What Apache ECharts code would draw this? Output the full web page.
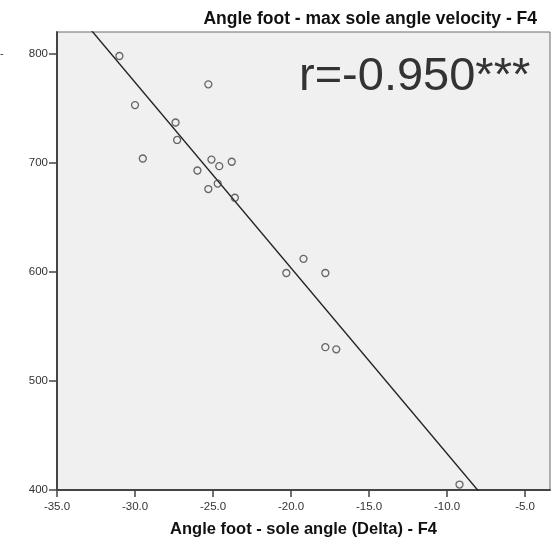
<!DOCTYPE html>
<html>
<head>
<meta charset="utf-8">
<script src="https://cdn.jsdelivr.net/npm/echarts@6/dist/echarts.min.js"></script>
<style>
  html, body { margin: 0; padding: 0; background: #fff; }
  #chart { width: 554px; height: 540px; }
</style>
</head>
<body>
<div id="chart"></div>
<script>
// Sole angle change (x) vs. maximum sole angle velocity (y), F4
const deltaAngle = [-31.0, -25.3, -30.0, -27.4, -27.3, -29.5, -25.1, -24.6, -23.8, -26.0,
                    -24.7, -25.3, -23.6, -19.2, -20.3, -17.8, -17.8, -17.1, -9.2];
const maxVelocity = [798, 772, 753, 737, 721, 704, 703, 697, 701, 693,
                     681, 676, 668, 612, 599, 599, 531, 529, 405];
// Linear fit, given by its two ends (clipped to the plot area)
const fitX = [-35.0, -3.4];
const fitY = [859, 321];
const xTicks = [-35, -30, -25, -20, -15, -10, -5];
const yTicks = [400, 500, 600, 700, 800];

const titleText = 'Angle foot - max sole angle velocity - F4';
const xName = 'Angle foot - sole angle (Delta) - F4';
const rText = 'r=-0.950***';

const points = deltaAngle.map((x, i) => [x, maxVelocity[i]]);
const fitLine = fitX.map((x, i) => [x, fitY[i]]);

const font = 'Liberation Sans, Arial, sans-serif';
const chart = echarts.init(document.getElementById('chart'), null, { renderer: 'canvas' });

chart.setOption({
  animation: false,
  backgroundColor: '#ffffff',
  title: {
    text: titleText,
    right: 12,
    top: 5,
    textStyle: { fontFamily: font, fontSize: 17.5, fontWeight: 'bold', color: '#111' }
  },
  grid: {
    left: 57, right: 4, top: 32, bottom: 50,
    containLabel: false,
    outerBoundsMode: 'none',
    show: true,
    backgroundColor: '#f0f0f0',
    borderColor: '#6a6a6a',
    borderWidth: 1
  },
  xAxis: {
    type: 'value',
    min: xTicks[0],
    max: -3.4,
    interval: 5,
    name: xName,
    nameLocation: 'middle',
    nameGap: 31,
    nameTextStyle: { fontFamily: font, fontSize: 16.5, fontWeight: 'bold', color: '#111' },
    axisLine: { show: true, onZero: false, lineStyle: { color: '#444', width: 2 } },
    axisTick: { show: true, length: 7, lineStyle: { color: '#444', width: 1.5 } },
    axisLabel: {
      fontFamily: font, fontSize: 11.5, color: '#333', margin: 11,
      showMaxLabel: false,
      formatter: v => xTicks.includes(v) ? v.toFixed(1) : ''
    },
    splitLine: { show: false }
  },
  yAxis: {
    type: 'value',
    min: yTicks[0],
    max: 820,
    interval: 100,
    axisLine: { show: true, onZero: false, lineStyle: { color: '#444', width: 2 } },
    axisTick: { show: true, length: 8, lineStyle: { color: '#444', width: 1.5 } },
    axisLabel: {
      fontFamily: font, fontSize: 11.5, color: '#333', margin: 9,
      showMaxLabel: false,
      formatter: v => yTicks.includes(v) ? String(v) : ''
    },
    splitLine: { show: false }
  },
  graphic: [
    {
      type: 'text',
      left: 0, top: 48,
      style: { text: '-', fontFamily: font, fontSize: 11, fill: '#333' }
    },
    {
      type: 'text',
      x: 299, y: 77,
      style: {
        text: rText, fontFamily: font, fontSize: 47, fill: '#333',
        textAlign: 'left', textVerticalAlign: 'middle', verticalAlign: 'middle'
      },
      z: 10
    }
  ],
  series: [
    {
      type: 'line',
      data: fitLine,
      symbol: 'none',
      clip: true,
      lineStyle: { color: '#222', width: 1.4 },
      z: 2
    },
    {
      type: 'scatter',
      data: points,
      symbol: 'circle',
      symbolSize: 7,
      itemStyle: { color: 'rgba(0,0,0,0)', borderColor: '#444', borderWidth: 1.3 },
      z: 3
    }
  ]
});
</script>
</body>
</html>
